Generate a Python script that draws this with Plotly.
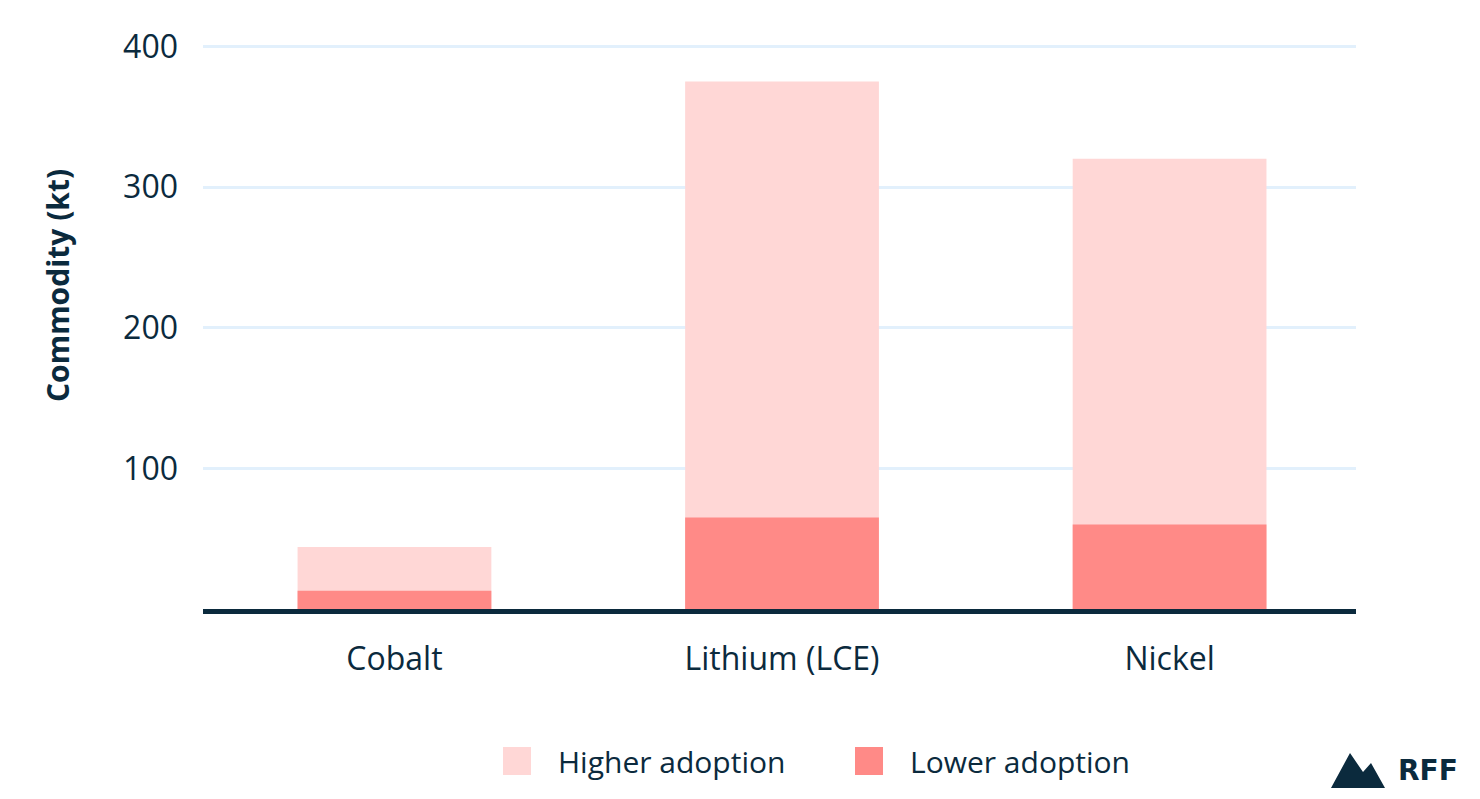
import plotly.graph_objects as go

categories = ["Cobalt", "Lithium (LCE)", "Nickel"]
higher_adoption = [44, 375, 320]
lower_adoption = [13, 65, 60]
series_names = ["Higher adoption", "Lower adoption"]
y_ticks = [100, 200, 300, 400]

LIGHT = "#FFD7D6"
DARK = "#FF8A87"
NAVY = "#0B2A3D"
GRID = "#E2F0FC"
FONT = "Open Sans"

OFF = 8  # page body margin
W, H = 1480 - 2 * OFF, 799 - 2 * OFF
L, R, T, B = 203 - OFF, 1356 - OFF, 40 - OFF, 609 - OFF


def px(x):
    # screen pixel x -> paper
    return (x - OFF - L) / (R - L)


def py(y):
    # screen pixel y -> paper
    return (B - (y - OFF)) / (B - T)


fig = go.Figure()
fig.add_trace(go.Bar(x=categories, y=higher_adoption, name=series_names[0],
                     marker=dict(color=LIGHT, line=dict(width=0)), width=0.5,
                     showlegend=False))
fig.add_trace(go.Bar(x=categories, y=lower_adoption, name=series_names[1],
                     marker=dict(color=DARK, line=dict(width=0)), width=0.5,
                     showlegend=False))

shapes = []
annotations = []

# custom legend
legend_items = [(series_names[0], LIGHT, 503), (series_names[1], DARK, 855)]
for name, col, x0 in legend_items:
    shapes.append(dict(type="rect", xref="paper", yref="paper",
                       x0=px(x0), x1=px(x0 + 28), y0=py(775), y1=py(747),
                       fillcolor=col, line=dict(width=0)))
    annotations.append(dict(text=name, xref="paper", yref="paper",
                            x=px(x0 + 53), y=py(761), xanchor="left", yanchor="middle",
                            showarrow=False, font=dict(family=FONT, size=30, color=NAVY)))

# y-axis title
annotations.append(dict(text="<b>Commodity (kt)</b>", xref="paper", yref="paper",
                        x=px(57), y=py(285), textangle=-90, xanchor="center", yanchor="middle",
                        showarrow=False, font=dict(family=FONT, size=30, color=NAVY)))

# RFF logo
pts = [(1331, 788), (1350, 753), (1363, 772), (1371, 763), (1385, 788)]
path = "M " + " L ".join(f"{px(x)},{py(y)}" for x, y in pts) + " Z"
shapes.append(dict(type="path", xref="paper", yref="paper", path=path,
                   fillcolor=NAVY, line=dict(width=0)))
annotations.append(dict(text="<b>RFF</b>", xref="paper", yref="paper",
                        x=px(1396), y=py(770), xanchor="left", yanchor="middle",
                        showarrow=False, font=dict(family="DejaVu Sans", size=28, color=NAVY)))

fig.update_layout(
    width=W, height=H,
    margin=dict(l=L, r=W - R, t=T, b=H - B, pad=0),
    paper_bgcolor="white", plot_bgcolor="white",
    barmode="overlay",
    shapes=shapes, annotations=annotations,
    font=dict(family=FONT, color=NAVY),
    xaxis=dict(range=[-0.494, 2.481], showline=True, linewidth=5, linecolor=NAVY,
               showgrid=False, ticks="", tickfont=dict(family=FONT, size=32, color=NAVY),
               ticklabelstandoff=18),
    yaxis=dict(range=[0, 404.5], tickvals=y_ticks, showgrid=True, gridcolor=GRID,
               gridwidth=3, zeroline=False, showline=False, ticks="",
               tickfont=dict(family=FONT, size=32, color=NAVY),
               ticklabelstandoff=24),
)

fig.write_html("out.html")
